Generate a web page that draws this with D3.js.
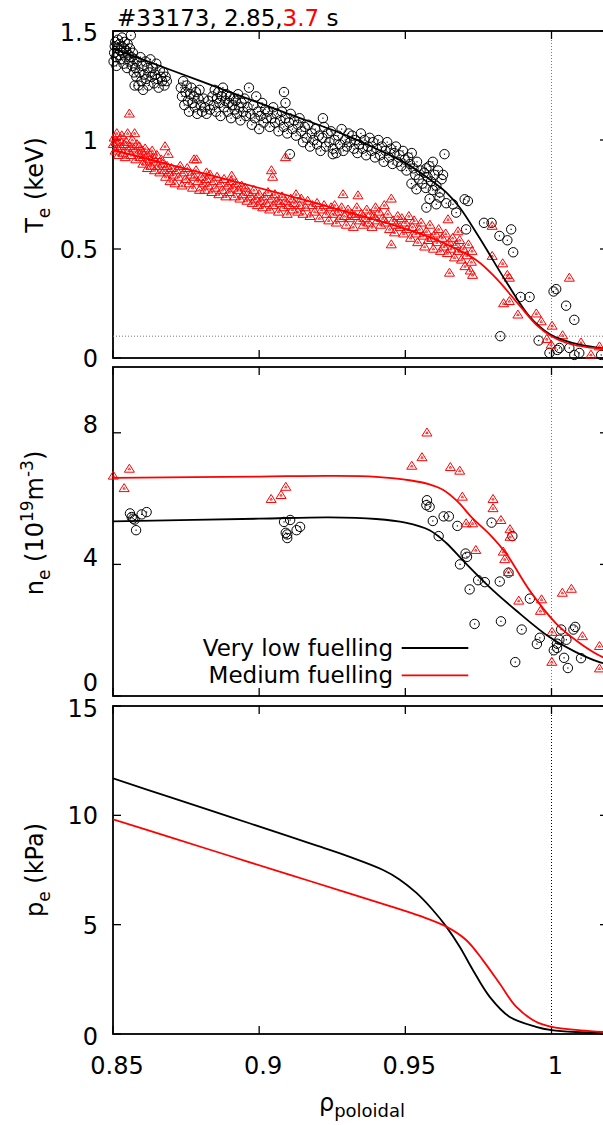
<!DOCTYPE html>
<html>
<head>
<meta charset="utf-8">
<script src="https://cdn.jsdelivr.net/npm/d3@7"></script>
<style>
  html, body { margin: 0; padding: 0; background: #fff; }
  svg { display: block; }
  text { font-family: "DejaVu Sans", sans-serif; fill: #000; }
</style>
</head>
<body>
<svg id="chart" width="603" height="1125"></svg>
<script>
// ---- Electron temperature (keV): measured points and fitted profiles ----
const teLowPts = [
  [0.8502,1.36],[0.8504,1.40],[0.8506,1.43],[0.8508,1.45],[0.8510,1.38],[0.8512,1.34],[0.8515,1.42],[0.8517,1.46],
  [0.8519,1.39],[0.8522,1.44],[0.8524,1.41],[0.8526,1.37],[0.8529,1.43],[0.8531,1.47],[0.8533,1.40],[0.8536,1.35],
  [0.8538,1.42],[0.8540,1.45],[0.8543,1.38],[0.8545,1.41],[0.8548,1.33],[0.8550,1.44],[0.8553,1.39],[0.8556,1.36],
  [0.8558,1.42],[0.8561,1.48],[0.8563,1.38],[0.8566,1.34],[0.8568,1.40],[0.8571,1.31],[0.8573,1.37],[0.8574,1.25],
  [0.8603,1.23],
  [0.8576,1.33],[0.8580,1.29],[0.8583,1.36],[0.8587,1.25],[0.8590,1.31],[0.8594,1.38],[0.8597,1.27],[0.8600,1.34],
  [0.8607,1.30],[0.8611,1.36],[0.8614,1.28],[0.8618,1.33],[0.8621,1.25],[0.8625,1.31],[0.8628,1.37],[0.8632,1.29],
  [0.8636,1.33],[0.8640,1.26],[0.8644,1.30],[0.8648,1.35],[0.8652,1.28],[0.8656,1.24],[0.8660,1.32],[0.8664,1.29],
  [0.8668,1.27],[0.8672,1.31],[0.8676,1.25],[0.8680,1.29],[0.8684,1.27],
  [0.8732,1.24],[0.8736,1.20],[0.8740,1.27],[0.8744,1.16],[0.8748,1.22],[0.8752,1.25],[0.8756,1.18],[0.8760,1.13],
  [0.8764,1.21],[0.8768,1.24],[0.8772,1.17],[0.8776,1.20],[0.8780,1.15],[0.8784,1.22],[0.8788,1.12],[0.8792,1.19],
  [0.8796,1.23],[0.8800,1.16],[0.8805,1.13],[0.8810,1.19],[0.8815,1.15],[0.8820,1.12],[0.8826,1.18],[0.8832,1.14],
  [0.8840,1.20],[0.8844,1.16],[0.8848,1.23],[0.8852,1.13],[0.8856,1.19],[0.8860,1.22],[0.8864,1.17],[0.8868,1.11],
  [0.8872,1.20],[0.8876,1.24],[0.8880,1.15],[0.8884,1.18],[0.8888,1.21],[0.8892,1.13],[0.8896,1.17],[0.8900,1.20],
  [0.8904,1.10],[0.8908,1.16],[0.8912,1.19],[0.8916,1.14],[0.8920,1.18],[0.8924,1.12],[0.8928,1.21],[0.8932,1.15],
  [0.8936,1.09],[0.8940,1.17],[0.8945,1.13],[0.8950,1.19],[0.8955,1.11],[0.8960,1.15],
  [0.8965,1.24],[0.8970,1.12],[0.8975,1.07],[0.8980,1.16],[0.8985,1.10],[0.8990,1.20],[0.8995,1.13],[0.9000,1.05],
  [0.9005,1.11],[0.9010,1.17],[0.9015,1.08],[0.9020,1.14],[0.9025,1.10],
  [0.9030,1.13],[0.9036,1.06],[0.9042,1.10],[0.9048,1.15],[0.9054,1.08],[0.9060,1.12],[0.9066,1.04],[0.9072,1.09],
  [0.9078,1.13],[0.9084,1.06],[0.9090,1.10],[0.9096,1.03],[0.9102,1.08],[0.9108,1.12],[0.9114,1.05],[0.9120,1.09],
  [0.9126,1.02],[0.9132,1.07],[0.9138,1.10],[0.9085,1.22],[0.9090,1.17],[0.9105,0.935],
  [0.9144,1.04],[0.9150,0.99],[0.9156,1.06],[0.9162,1.01],[0.9168,1.07],[0.9174,0.97],[0.9180,1.03],[0.9186,1.00],
  [0.9192,1.05],[0.9198,0.98],[0.9204,1.02],[0.9210,0.95],[0.9216,1.01],[0.9222,1.06],[0.9228,0.97],[0.9234,1.03],
  [0.9240,0.99],[0.9246,1.04],[0.9252,0.96],[0.9258,1.00],[0.9264,0.94],[0.9270,1.02],[0.9276,0.98],[0.9282,1.05],
  [0.9288,0.95],[0.9294,1.00],[0.9300,0.97],[0.9306,1.03],[0.9218,1.10],[0.9252,0.935],
  [0.9312,0.99],[0.9318,1.02],[0.9324,0.96],[0.9330,1.00],[0.9336,0.94],[0.9342,0.98],[0.9348,1.03],[0.9354,0.96],
  [0.9360,1.00],[0.9366,0.93],[0.9372,0.97],[0.9378,1.01],
  [0.9384,0.95],[0.9390,0.99],[0.9396,0.92],[0.9402,0.96],[0.9408,1.00],[0.9414,0.93],[0.9420,0.97],[0.9426,0.90],
  [0.9432,0.95],[0.9438,0.99],[0.9444,0.92],[0.9450,0.96],[0.9456,0.89],[0.9462,0.94],[0.9468,0.97],[0.9474,0.90],
  [0.9480,0.93],[0.9486,0.88],[0.9492,0.95],[0.9498,0.91],[0.9504,0.86],[0.9510,0.92],[0.9516,0.89],[0.9522,0.94],
  [0.9528,0.87],[0.9534,0.84],[0.9540,0.90],[0.9546,0.82],[0.9552,0.86],[0.9558,0.80],[0.9564,0.85],[0.9570,0.78],
  [0.9576,0.83],[0.9582,0.88],[0.9588,0.81],[0.9594,0.77],[0.9600,0.84],[0.9606,0.79],[0.9612,0.86],[0.9618,0.76],
  [0.9624,0.82],[0.9634,0.935],[0.9629,0.84],[0.9594,0.90],[0.9572,0.87],
  [0.9521,0.80],[0.9538,0.774],[0.9572,0.69],[0.9583,0.73],[0.9617,0.736],[0.9640,0.71],[0.9663,0.705],[0.9674,0.667],
  [0.9703,0.728],[0.9714,0.72],[0.9606,0.705],
  [0.9708,0.59],[0.9769,0.62],[0.9795,0.62],[0.9822,0.56],[0.9849,0.54],[0.9862,0.59],[0.9869,0.485],[0.9894,0.28],
  [0.9925,0.28],[0.9825,0.10],[0.9956,0.08],[1.0007,0.305],[1.0016,0.316],[1.0050,0.24],[1.0078,0.175],[1.0020,0.037],
  [1.0027,0.046],[1.0061,0.046],[1.0095,0.023],[0.9993,0.023],[1.0170,0.014],[1.0078,0.014]
];
const teMedPts = [
  [0.8501,0.98],[0.8504,1.01],[0.8507,0.95],[0.8510,0.99],[0.8513,1.03],[0.8516,0.96],[0.8519,0.93],[0.8522,1.00],
  [0.8526,0.97],[0.8530,1.02],[0.8534,0.94],[0.8538,0.98],[0.8542,0.92],[0.8546,0.99],[0.8550,1.03],[0.8554,0.95],
  [0.8556,1.12],[0.8558,0.97],[0.8562,0.93],[0.8566,1.00],[0.8570,0.96],[0.8574,1.03],[0.8578,0.91],[0.8582,0.98],
  [0.8586,0.94],
  [0.8590,0.97],[0.8594,0.92],[0.8598,0.95],[0.8602,0.89],[0.8606,0.93],[0.8610,0.96],[0.8614,0.90],[0.8618,0.87],
  [0.8622,0.94],[0.8626,0.91],[0.8630,0.88],[0.8634,0.95],[0.8638,0.92],[0.8642,0.86],[0.8646,0.90],[0.8650,0.93],
  [0.8655,0.88],[0.8660,0.85],[0.8665,0.91],[0.8670,0.89],[0.8678,0.97],[0.8689,0.935],[0.8777,0.91],[0.8786,0.91],
  [0.8675,0.86],[0.8680,0.83],[0.8685,0.88],[0.8690,0.85],[0.8695,0.81],[0.8700,0.87],[0.8706,0.84],[0.8712,0.80],
  [0.8718,0.86],[0.8724,0.83],[0.8730,0.88],[0.8736,0.79],[0.8742,0.85],[0.8748,0.82],[0.8754,0.87],[0.8760,0.80],
  [0.8766,0.84],[0.8772,0.78],[0.8778,0.83],[0.8784,0.86],[0.8790,0.81],[0.8796,0.77],
  [0.8802,0.83],[0.8808,0.80],[0.8814,0.77],[0.8820,0.82],[0.8826,0.79],[0.8832,0.84],[0.8838,0.76],[0.8844,0.81],
  [0.8850,0.78],[0.8856,0.83],[0.8862,0.75],[0.8868,0.80],[0.8874,0.77],[0.8880,0.82],[0.8886,0.74],[0.8892,0.79],
  [0.8898,0.76],[0.8904,0.81],[0.8910,0.78],[0.8916,0.74],[0.8922,0.80],[0.8928,0.77],[0.8934,0.73],[0.8940,0.79],
  [0.8946,0.75],[0.8952,0.78],[0.8958,0.72],[0.8964,0.76],[0.8820,0.85],[0.8906,0.835],
  [0.9042,0.86],[0.9046,0.83],[0.9090,0.92],
  [0.8970,0.74],[0.8976,0.71],[0.8982,0.77],[0.8988,0.73],[0.8994,0.70],[0.9000,0.75],[0.9006,0.72],[0.9012,0.69],
  [0.9018,0.74],[0.9024,0.71],[0.9030,0.76],[0.9036,0.68],[0.9042,0.73],[0.9048,0.70],[0.9054,0.75],[0.9060,0.72],
  [0.9066,0.67],[0.9072,0.71],[0.9078,0.74],[0.9084,0.69],[0.9090,0.72],[0.9096,0.66],[0.9102,0.70],[0.9108,0.73],
  [0.9114,0.68],[0.9120,0.71],[0.9126,0.75],[0.9132,0.67],[0.9138,0.70],[0.9144,0.73],[0.9150,0.66],[0.9158,0.69],
  [0.9166,0.72],[0.9174,0.65],[0.9182,0.70],[0.9190,0.67],[0.9198,0.71],[0.9206,0.64],[0.9214,0.68],[0.9222,0.70],
  [0.9230,0.66],[0.9238,0.63],[0.9246,0.69],
  [0.9252,0.66],[0.9258,0.70],[0.9264,0.62],[0.9270,0.67],[0.9276,0.64],[0.9282,0.69],[0.9287,0.75],[0.9292,0.65],
  [0.9298,0.61],[0.9304,0.68],[0.9310,0.64],[0.9316,0.66],[0.9322,0.60],[0.9328,0.65],[0.9334,0.69],[0.9338,0.745],
  [0.9344,0.63],[0.9350,0.66],[0.9356,0.61],
  [0.9362,0.64],[0.9368,0.68],[0.9374,0.62],[0.9380,0.66],[0.9386,0.60],[0.9392,0.65],[0.9398,0.69],[0.9404,0.63],
  [0.9410,0.67],[0.9416,0.61],[0.9422,0.64],[0.9428,0.70],[0.9434,0.62],[0.9440,0.66],[0.9446,0.59],[0.9452,0.73],
  [0.9452,0.52],[0.9458,0.63],[0.9463,0.575],[0.9468,0.61],[0.9474,0.65],
  [0.9482,0.60],[0.9488,0.64],[0.9494,0.57],[0.9500,0.62],[0.9506,0.59],[0.9512,0.65],[0.9518,0.55],[0.9524,0.60],
  [0.9530,0.63],[0.9536,0.57],[0.9542,0.53],[0.9548,0.59],[0.9554,0.62],[0.9560,0.56],[0.9566,0.51],[0.9572,0.58],
  [0.9578,0.54],[0.9584,0.61],[0.9590,0.55],[0.9596,0.50],[0.9602,0.57],[0.9608,0.53],[0.9614,0.59],[0.9620,0.49],
  [0.9651,0.39],[0.9646,0.635],[0.9680,0.58],
  [0.9626,0.55],[0.9632,0.51],[0.9638,0.57],[0.9644,0.48],[0.9650,0.53],[0.9656,0.50],[0.9662,0.55],[0.9668,0.46],
  [0.9674,0.52],[0.9680,0.49],[0.9686,0.54],[0.9692,0.45],[0.9698,0.50],[0.9704,0.42],[0.9710,0.47],[0.9716,0.52],
  [0.9722,0.40],[0.9726,0.44],[0.9730,0.38],[0.9728,0.49],
  [0.9797,0.605],[0.9797,0.467],[0.9833,0.433],[0.9849,0.38],[0.9856,0.367],[0.9836,0.25],[0.9856,0.26],[0.9885,0.198],
  [0.9948,0.203],[0.9965,0.167],[1.0002,0.147],[0.9984,0.086],[1.0038,0.103],[0.9999,0.06],[1.0061,0.367],[1.0101,0.07],
  [1.0135,0.014],[1.0164,0.052]
];
const teLowFit = [[0.85,1.42],[0.87,1.32],[0.89,1.22],[0.91,1.12],[0.93,1.02],[0.94,0.96],[0.95,0.895],
  [0.9583,0.82],[0.964,0.76],[0.9686,0.69],[0.9754,0.55],[0.9845,0.35],[0.9925,0.19],[0.9993,0.11],
  [1.0038,0.083],[1.01,0.06],[1.02,0.04]];
const teMedFit = [[0.85,0.955],[0.87,0.885],[0.89,0.815],[0.91,0.745],[0.93,0.67],[0.947,0.605],[0.96,0.545],
  [0.9742,0.45],[0.9811,0.365],[0.9891,0.24],[0.995,0.15],[1.0,0.10],[1.005,0.07],[1.012,0.05],[1.02,0.04]];

// ---- Electron density (1e19 m^-3) ----
const neLowPts = [
  [0.8558,5.55],[0.8569,5.39],[0.8564,5.44],[0.8598,5.52],[0.8615,5.59],[0.8579,5.04],[0.8574,5.36],
  [0.9085,5.29],[0.9106,5.35],[0.9096,4.91],[0.9091,4.96],[0.9128,5.04],[0.9140,5.14],[0.9096,4.80],
  [0.9574,5.95],[0.9572,5.80],[0.9583,5.75],[0.9594,5.32],[0.9631,5.46],[0.9649,5.46],[0.9678,5.17],[0.9614,4.86],
  [0.9795,5.27],[0.9866,4.86],[0.9706,4.33],[0.9711,4.23],[0.9687,4.00],[0.9749,3.52],[0.9772,3.46],[0.9720,3.24],
  [0.9823,3.48],[0.9853,3.75],[0.9926,2.96],[0.9737,2.19],[0.9827,2.27],[0.9898,2.02],[0.9960,1.77],[0.9950,1.58],
  [0.9876,1.03],[1.0019,1.59],[1.0027,1.71],[1.0033,2.02],[1.0051,1.71],[1.0075,2.02],[1.0081,2.10],[1.0008,1.39],
  [1.0043,1.16],[1.0056,0.85],[1.0101,1.15],[1.0019,1.46]
];
const neMedPts = [
  [0.8501,6.69],[0.8556,6.90],[0.8538,6.31],[0.9041,5.98],[0.9075,6.10],[0.9091,6.35],
  [0.9574,8.00],[0.9557,7.25],[0.9522,6.99],[0.9654,6.95],[0.9686,6.84],[0.9695,6.05],[0.9800,5.98],[0.9800,5.70],
  [0.9827,5.34],[0.9858,5.06],[0.9858,4.83],[0.9708,5.24],[0.9730,5.24],[0.9741,4.43],[0.9835,4.38],[0.9840,4.15],
  [0.9853,3.76],[0.9888,2.89],[0.9966,2.93],[0.9962,2.58],[1.0037,3.13],[1.0068,3.25],[1.0002,1.94],[1.0001,1.03],
  [1.0106,1.81],[1.0164,1.51],[1.0164,0.83]
];
const neLowFit = [[0.85,5.31],[0.90,5.39],[0.9241,5.43],[0.94,5.38],[0.95,5.27],[0.9583,5.04],[0.9640,4.65],
  [0.9697,4.12],[0.9788,3.31],[0.9879,2.60],[0.9993,1.79],[1.0080,1.35],[1.0164,1.03],[1.02,0.96]];
const neMedFit = [[0.85,6.63],[0.90,6.67],[0.925,6.69],[0.94,6.66],[0.952,6.55],[0.958,6.44],[0.963,6.26],
  [0.968,5.90],[0.9727,5.43],[0.979,4.90],[0.9845,4.33],[0.9925,3.21],[1.0016,2.20],[1.009,1.65],[1.0164,1.23],
  [1.02,1.10]];

// ---- Electron pressure (kPa) ----
const peLowFit = [[0.85,11.69],[0.87,10.81],[0.89,9.93],[0.91,9.05],[0.92,8.60],[0.931,8.10],[0.9424,7.50],
  [0.948,7.07],[0.9538,6.45],[0.9594,5.67],[0.964,4.91],[0.9686,3.99],[0.9731,2.93],[0.9788,1.71],[0.9856,0.79],
  [0.9947,0.33],[1.0,0.18],[1.01,0.08],[1.02,0.03]];
const peMedFit = [[0.85,9.82],[0.87,8.98],[0.89,8.14],[0.91,7.30],[0.93,6.47],[0.945,5.84],[0.955,5.40],
  [0.964,4.91],[0.9708,4.30],[0.9765,3.38],[0.9822,2.32],[0.9879,1.25],[0.9947,0.56],[1.0,0.33],[1.01,0.17],
  [1.02,0.08]];

// ---- Axes ----
const xTicks = [0.85, 0.90, 0.95, 1.0];
const xTickLabels = ["0.85", "0.9", "0.95", "1"];
const teTicks = [0, 0.5, 1, 1.5];
const teTickLabels = ["0", "0.5", "1", "1.5"];
const neTicks = [0, 4, 8];
const neTickLabels = ["0", "4", "8"];
const peTicks = [0, 5, 10, 15];
const peTickLabels = ["0", "5", "10", "15"];
const seriesNames = ["Very low fuelling", "Medium fuelling"];
const seriesColors = ["#000000", "#ff0000"];
const titleParts = [["#33173, 2.85,", "#000000"], ["3.7", "#ff0000"], [" s", "#000000"]];

const svg = d3.select("#chart");
const FONT = 24;
const left = 113, right = 608;
const x = d3.scaleLinear().domain([0.85, 1.0]).range([left, 551.5]);

const panels = [
  { id: "te", top: 31, bottom: 358, domain: [0, 1.5], ticks: teTicks, labels: teTickLabels, labelDy: [0, 0, 0, 1] },
  { id: "ne", top: 367, bottom: 696, domain: [0, 10], ticks: neTicks, labels: neTickLabels, labelDy: [-14, -7, -8] },
  { id: "pe", top: 706, bottom: 1034, domain: [0, 15], ticks: peTicks, labels: peTickLabels, labelDy: [2, 1, 0, 2] }
];
panels.forEach(p => { p.y = d3.scaleLinear().domain(p.domain).range([p.bottom, p.top]); });

svg.append("defs").selectAll("clipPath").data(panels).join("clipPath")
  .attr("id", p => "clip-" + p.id)
  .append("rect")
  .attr("x", left).attr("y", p => p.top)
  .attr("width", right - left).attr("height", p => p.bottom - p.top);

function drawFrame(p, showX) {
  const g = svg.append("g");
  // separatrix marker at rho = 1
  g.append("line")
    .attr("x1", x(1)).attr("x2", x(1)).attr("y1", p.top).attr("y2", p.bottom)
    .attr("stroke", p.id === "pe" ? "#000" : "#777").attr("stroke-width", 1)
    .attr("stroke-dasharray", "1,2");
  const tl = 8;
  g.selectAll(".xtb").data(xTicks).join("line")
    .attr("x1", d => x(d)).attr("x2", d => x(d))
    .attr("y1", p.bottom).attr("y2", p.bottom - tl)
    .attr("stroke", "#000").attr("stroke-width", 1.3);
  g.selectAll(".xtt").data(xTicks).join("line")
    .attr("x1", d => x(d)).attr("x2", d => x(d))
    .attr("y1", p.top).attr("y2", p.top + tl)
    .attr("stroke", "#000").attr("stroke-width", 1.3);
  g.selectAll(".ytl").data(p.ticks).join("line")
    .attr("x1", left).attr("x2", left + tl)
    .attr("y1", d => p.y(d)).attr("y2", d => p.y(d))
    .attr("stroke", "#000").attr("stroke-width", 1.3);
  g.selectAll(".ytr").data(p.ticks).join("line")
    .attr("x1", right).attr("x2", right - tl)
    .attr("y1", d => p.y(d)).attr("y2", d => p.y(d))
    .attr("stroke", "#000").attr("stroke-width", 1.3);
  g.append("rect")
    .attr("x", left).attr("y", p.top)
    .attr("width", right - left).attr("height", p.bottom - p.top)
    .attr("fill", "none").attr("stroke", "#000").attr("stroke-width", 1.8);
  g.selectAll(".ylab").data(p.ticks).join("text")
    .attr("x", 98).attr("y", (d, i) => p.y(d) + p.labelDy[i])
    .attr("dy", "0.36em")
    .attr("text-anchor", "end").attr("font-size", FONT)
    .text((d, i) => p.labels[i]);
  if (showX) {
    g.selectAll(".xlab").data(xTicks).join("text")
      .attr("x", d => x(d) + 4).attr("y", 1074)
      .attr("text-anchor", "middle").attr("font-size", FONT)
      .text((d, i) => xTickLabels[i]);
  }
}

function circles(g, pts, y) {
  const sel = g.selectAll(null).data(pts).join("g")
    .attr("transform", d => `translate(${x(d[0])},${y(d[1])})`);
  sel.append("circle").attr("r", 4.7).attr("fill", "none").attr("stroke", "#000").attr("stroke-width", 1);
  sel.append("rect").attr("x", -0.6).attr("y", -0.6).attr("width", 1.2).attr("height", 1.2).attr("fill", "#000");
}
function triangles(g, pts, y) {
  const sel = g.selectAll(null).data(pts).join("g")
    .attr("transform", d => `translate(${x(d[0])},${y(d[1])})`);
  sel.append("path").attr("d", "M0,-4.8L5,3.2L-5,3.2Z")
    .attr("fill", "none").attr("stroke", "#ff0000").attr("stroke-width", 1);
  sel.append("path").attr("d", "M0,-1.2L1.2,0.8L-1.2,0.8Z")
    .attr("fill", "none").attr("stroke", "#ff0000").attr("stroke-width", 0.8);
}
function fitLine(g, pts, y, color, clipId) {
  g.append("path").datum(pts)
    .attr("clip-path", `url(#${clipId})`)
    .attr("fill", "none").attr("stroke", color).attr("stroke-width", 1.8)
    .attr("d", d3.line().x(d => x(d[0])).y(d => y(d[1])).curve(d3.curveCatmullRom.alpha(0.5)));
}

// Panel 1: Te
const pTe = panels[0];
drawFrame(pTe, false);
svg.append("line")
  .attr("x1", left).attr("x2", right).attr("y1", pTe.y(0.1)).attr("y2", pTe.y(0.1))
  .attr("stroke", "#777").attr("stroke-width", 1).attr("stroke-dasharray", "1,2");
const gTe = svg.append("g");
circles(gTe, teLowPts, pTe.y);
triangles(gTe, teMedPts, pTe.y);
fitLine(gTe, teLowFit, pTe.y, seriesColors[0], "clip-te");
fitLine(gTe, teMedFit, pTe.y, seriesColors[1], "clip-te");

// Panel 2: ne
const pNe = panels[1];
drawFrame(pNe, false);
const gNe = svg.append("g");
circles(gNe, neLowPts, pNe.y);
triangles(gNe, neMedPts, pNe.y);
fitLine(gNe, neLowFit, pNe.y, seriesColors[0], "clip-ne");
fitLine(gNe, neMedFit, pNe.y, seriesColors[1], "clip-ne");

// Legend
const legend = svg.append("g");
seriesNames.forEach((name, i) => {
  const yy = 648 + i * 27.3;
  legend.append("text").attr("x", 393).attr("y", yy + 7.5)
    .attr("text-anchor", "end").attr("font-size", 23).text(name);
  legend.append("line").attr("x1", 401.7).attr("x2", 468.3).attr("y1", yy).attr("y2", yy)
    .attr("stroke", seriesColors[i]).attr("stroke-width", 1.8);
});

// Panel 3: pe
const pPe = panels[2];
drawFrame(pPe, true);
const gPe = svg.append("g");
fitLine(gPe, peLowFit, pPe.y, seriesColors[0], "clip-pe");
fitLine(gPe, peMedFit, pPe.y, seriesColors[1], "clip-pe");

// Axis titles
function yTitle(cx, cy, parts) {
  const t = svg.append("text")
    .attr("transform", `translate(${cx},${cy}) rotate(-90)`)
    .attr("text-anchor", "middle").attr("font-size", FONT);
  let shift = 0;
  parts.forEach(([s, kind]) => {
    const target = kind === "sub" ? 7 : kind === "sup" ? -10 : 0;
    t.append("tspan")
      .attr("dy", target - shift)
      .attr("font-size", kind === "normal" ? FONT : 17)
      .text(s);
    shift = target;
  });
}
yTitle(43, 185, [["T", "normal"], ["e", "sub"], [" (keV)", "normal"]]);
yTitle(43, 523, [["n", "normal"], ["e", "sub"], [" (10", "normal"], ["19", "sup"], ["m", "normal"], ["-3", "sup"], [")", "normal"]]);
yTitle(43, 870, [["p", "normal"], ["e", "sub"], [" (kPa)", "normal"]]);

// x axis title
const xt = svg.append("text").attr("x", 362).attr("y", 1111)
  .attr("text-anchor", "middle").attr("font-size", FONT);
xt.append("tspan").text("ρ");
xt.append("tspan").attr("dy", 6).attr("font-size", 18).text("poloidal");

// Title
const tt = svg.append("text").attr("x", 117).attr("y", 26).attr("font-size", 23);
titleParts.forEach(([s, c]) => tt.append("tspan").attr("fill", c).text(s));
</script>
</body>
</html>
